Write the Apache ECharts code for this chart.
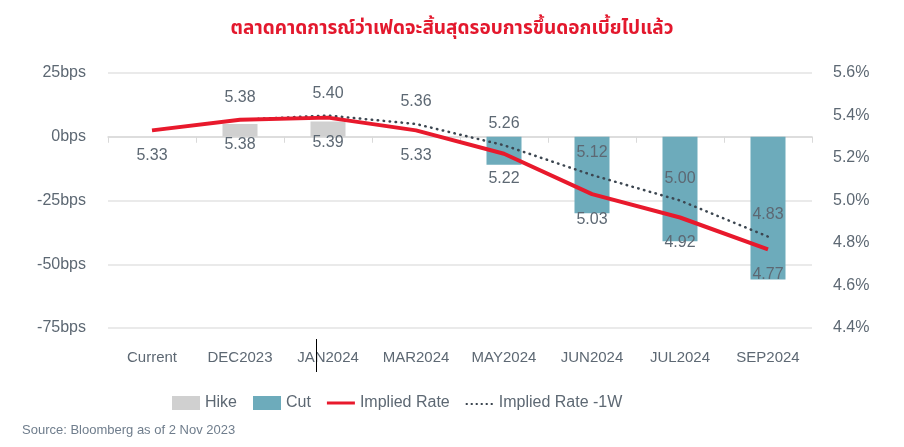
<!DOCTYPE html>
<html>
<head>
<meta charset="utf-8">
<script src="https://cdn.jsdelivr.net/npm/echarts@6/dist/echarts.min.js"></script>
<style>
  html, body { margin: 0; padding: 0; background: #fff; }
  #chart { width: 904px; height: 447px; }
</style>
</head>
<body>
<div id="chart"></div>
<script>
const categories = ['Current', 'DEC2023', 'JAN2024', 'MAR2024', 'MAY2024', 'JUN2024', 'JUL2024', 'SEP2024']
const hikeBps = [null, 5, 6, 0, null, null, null, null]
const cutBps = [null, null, null, null, -11, -30, -41, -56]
const impliedRate = [5.33, 5.38, 5.39, 5.33, 5.22, 5.03, 4.92, 4.77]
const impliedRate1W = [null, 5.38, 5.40, 5.36, 5.26, 5.12, 5.00, 4.83]

const font = "'Liberation Sans Narrow', 'Liberation Sans', Arial, sans-serif"
const textGrey = '#5d6873'

const chart = echarts.init(document.getElementById('chart'))

chart.setOption({
  animation: false,
  textStyle: { fontFamily: font },
  title: {
    text: 'ตลาดคาดการณ์ว่าเฟดจะสิ้นสุดรอบการขึ้นดอกเบี้ยไปแล้ว',
    left: 'center',
    top: 16,
    textStyle: { color: '#e3182d', fontSize: 19, fontWeight: 'bold', fontFamily: "'Noto Sans Thai', 'Noto Sans', sans-serif" }
  },
  graphic: [
    {
      type: 'text',
      left: 22,
      top: 424,
      style: { text: 'Source: Bloomberg as of 2 Nov 2023', fill: '#6f7d8c', font: "13px " + font }
    },
    {
      // stray cursor mark in the source image
      type: 'line',
      shape: { x1: 316.5, y1: 339, x2: 316.5, y2: 372 },
      style: { stroke: '#000', lineWidth: 1 },
      z: 100
    }
  ],
  legend: {
    left: 167,
    top: 390,
    itemWidth: 28,
    itemHeight: 14,
    itemGap: 16,
    textStyle: { color: textGrey, fontSize: 16, fontFamily: font },
    data: [
      { name: 'Hike', icon: 'rect' },
      { name: 'Cut', icon: 'rect' },
      { name: 'Implied Rate', icon: 'path://M0,6 L28,6 L28,9 L0,9 Z' },
      { name: 'Implied Rate -1W', icon: 'path://M0,7 h2 v2 h-2 Z M5,7 h2 v2 h-2 Z M10,7 h2 v2 h-2 Z M15,7 h2 v2 h-2 Z M20,7 h2 v2 h-2 Z M25,7 h2 v2 h-2 Z M0,0 h0.01 v0.01 Z M28,14 h0.01 v0.01 Z' }
    ]
  },
  grid: { left: 108, right: 92, top: 73, bottom: 119 },
  xAxis: [
    {
      type: 'category',
      data: categories,
      position: 'bottom',
      axisLine: { show: false },
      axisTick: { show: false },
      axisLabel: { color: textGrey, fontSize: 15, margin: 22, interval: 0 }
    },
    {
      type: 'category',
      data: categories,
      position: 'bottom',
      axisLine: { show: true, onZero: true, onZeroAxisIndex: 0, lineStyle: { color: '#d9d9d9', width: 1.5 } },
      axisTick: { show: true, length: 6, lineStyle: { color: '#d9d9d9' } },
      axisLabel: { show: false }
    }
  ],
  yAxis: [
    {
      type: 'value',
      min: -75,
      max: 25,
      interval: 25,
      axisLine: { show: false },
      axisTick: { show: false },
      axisLabel: { color: textGrey, fontSize: 16, margin: 22, formatter: '{value}bps' },
      splitLine: { lineStyle: { color: '#e3e3e3', width: 1.5 } }
    },
    {
      type: 'value',
      min: 4.4,
      max: 5.6,
      interval: 0.2,
      position: 'right',
      axisLine: { show: false },
      axisTick: { show: false },
      splitLine: { show: false },
      axisLabel: {
        color: textGrey,
        fontSize: 16,
        margin: 21,
        formatter: v => v.toFixed(1) + '%'
      }
    }
  ],
  series: [
    {
      name: 'Hike',
      type: 'bar',
      stack: 'chg',
      barWidth: 35,
      itemStyle: { color: '#d0d0d0' },
      data: hikeBps
    },
    {
      name: 'Cut',
      type: 'bar',
      stack: 'chg',
      barWidth: 35,
      itemStyle: { color: '#6dabbb' },
      data: cutBps
    },
    {
      name: 'Implied Rate',
      type: 'line',
      yAxisIndex: 1,
      symbol: 'circle',
      symbolSize: 0,
      showSymbol: true,
      lineStyle: { color: '#e8192c', width: 4 },
      itemStyle: { color: '#e8192c' },
      label: {
        show: true,
        position: 'bottom',
        distance: 17,
        color: textGrey,
        fontSize: 16,
        formatter: p => p.value.toFixed(2)
      },
      z: 5,
      data: impliedRate
    },
    {
      name: 'Implied Rate -1W',
      type: 'line',
      yAxisIndex: 1,
      symbol: 'circle',
      symbolSize: 0,
      showSymbol: true,
      lineStyle: { color: '#3c4650', width: 2.5, type: [0.5, 5.5], cap: 'round' },
      itemStyle: { color: '#3c4650' },
      label: {
        show: true,
        position: 'top',
        distance: 14,
        color: textGrey,
        fontSize: 16,
        formatter: p => p.value.toFixed(2)
      },
      z: 4,
      data: impliedRate1W
    }
  ]
})
</script>
</body>
</html>
